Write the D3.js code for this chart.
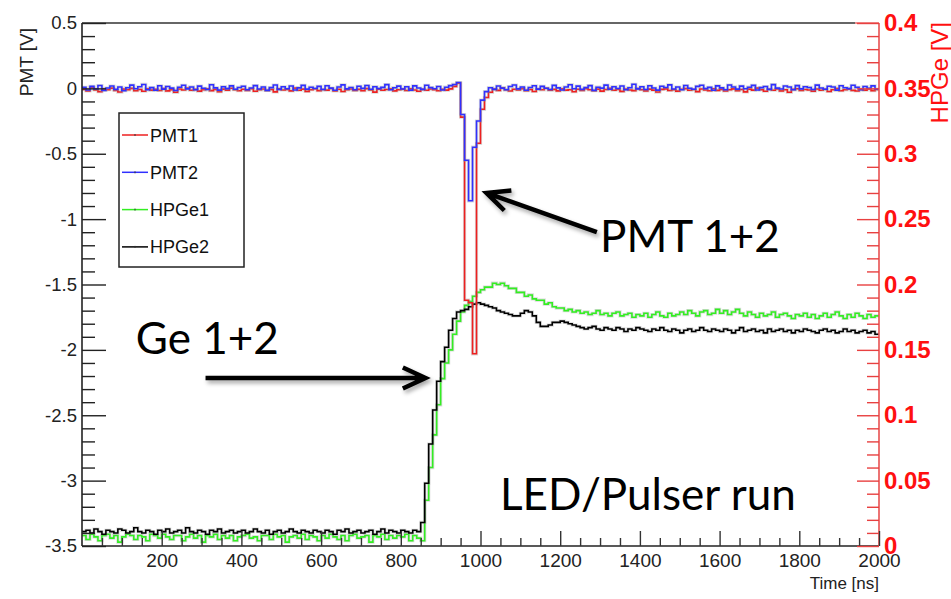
<!DOCTYPE html>
<html>
<head>
<meta charset="utf-8">
<script src="https://cdn.jsdelivr.net/npm/d3@7"></script>
<style>
  body { margin: 0; background: #fff; }
  svg { display: block; }
</style>
</head>
<body>
<svg id="chart" width="951" height="599"></svg>
<script>
// Digitiser traces, 10 ns bins starting at t = 0 ns. Values in mV.
const binWidth = 10;

const pmt1 = [
  -8, -20, 5, -12, -25, -3, -10, 2, -15, -28, -6, -11, 0, -18, -9, -22, -4, -13, -7, -16,
  -2, -19, -10, -30, -5, -12, 3, -14, -8, -21, -11, -4, -17, -9, -26, -6, -13, 1, -10, -18,
  -7, -15, -3, -22, -11, -5, -16, -9, -27, -4, -12, -8, -19, 2, -14, -6, -23, -10, -3, -17,
  -9, -13, -1, -20, -7, -24, -11, -5, -15, -8, -18, -2, -12, -29, -6, -14, -9, -4, -19, -10,
  -6, -16, -3, -12, -22, -8, -14, -5, -10, -18, -7, -13, -4, 15, 40, -220, -1620, -1640, -2030, -420,
  -160, -70, -30, -5, -15, 4, -10, -20, -7, -12, -2, -17, -9, -24, -6, -11, 1, -14, -8, -19,
  -4, -13, -10, -26, -7, -15, -3, -11, -18, -6, -21, -9, 0, -14, -8, -23, -5, -12, -17, -2,
  -10, -19, -6, -13, -28, -8, -4, -16, -11, -21, -7, -2, -14, -9, -25, -5, -12, -18, -3, -15,
  -8, -20, -11, -4, -17, -9, -27, -6, -13, 2, -10, -22, -7, -14, -5, -19, -11, -30, -8, -3,
  -16, -9, -12, -21, -5, -14, -7, -24, -10, -2, -18, -11, -6, -15, -20, -8, -13, -4, -17, -9
];

const pmt2 = [
  8, -12, 15, -5, 22, -15, 3, 18, -8, 10, -18, 5, 25, -3, 12, 30, -10, 6, -14, 20,
  -6, 14, 2, -16, 9, 24, -4, 11, -11, 17, 1, -9, 28, 4, -13, 13, -2, 19, -7, 7,
  16, -10, 3, 21, -5, 10, -15, 6, 26, -8, 12, -3, 18, -12, 4, 23, -6, 9, -1, 15,
  -9, 20, 2, -14, 11, 27, -4, 7, -11, 16, 0, 22, -7, 13, -2, 8, 29, -10, 5, 17,
  -5, 12, -13, 19, 3, -8, 24, 6, -3, 14, -12, 9, 21, 30, 45, -200, -550, -860, -450, -250,
  -90, -25, 5, -8, 18, 2, -11, 14, 26, -4, 10, -14, 7, 20, -6, 15, 1, -9, 23, 4,
  -12, 11, 28, -3, 17, -8, 6, 21, -15, 9, 2, 25, -7, 13, -1, 18, -10, 5, 31, -4,
  12, -9, 20, 3, -13, 16, 7, 27, -5, 10, -11, 22, 1, -7, 15, 24, -2, 8, -14, 19,
  4, -10, 26, 11, -6, 17, -3, 9, 23, -12, 6, 14, -8, 29, 2, -5, 18, 10, -11, 21,
  -4, 13, 7, -9, 25, 3, -7, 16, 11, -13, 20, 5, -2, 24, 8, -10, 14, 1, 19, -6
];

const hpge1 = [
  8, 5, 9, 7, 4, 8, 9, 6, 8, 3, 7, 9, 8, 5, 8, 7, 4, 9, 8, 6,
  9, 7, 5, 8, 8, 4, 7, 9, 6, 8, 3, 8, 7, 9, 5, 8, 6, 8, 4, 7,
  8, 9, 6, 7, 4, 8, 8, 5, 9, 7, 8, 3, 7, 8, 6, 9, 5, 8, 7, 4,
  8, 6, 9, 7, 5, 8, 4, 8, 9, 6, 7, 8, 3, 8, 7, 9, 5, 8, 6, 8,
  7, 9, 4, 8, 6, 4, 35, 60, 85, 108, 128, 140, 150, 162, 172, 179, 184, 187, 191, 194,
  196, 198, 198, 201, 200, 201, 199, 197, 197, 194, 194, 191, 192, 189, 188, 188, 185, 186, 183, 182,
  182, 180, 181, 179, 180, 178, 179, 177, 178, 180, 177, 178, 176, 178, 179, 176, 177, 178, 175, 177,
  176, 178, 175, 177, 179, 176, 175, 178, 176, 177, 179, 177, 180, 178, 176, 179, 180, 177, 178, 181,
  178, 180, 177, 179, 181, 178, 176, 179, 177, 175, 178, 176, 177, 179, 175, 177, 178, 176, 174, 177,
  176, 178, 175, 177, 174, 176, 178, 175, 177, 179, 176, 174, 177, 175, 178, 176, 174, 177, 175, 176
];

const hpge2 = [
  11, 12, 10, 13, 11, 9, 12, 11, 10, 13, 12, 10, 11, 14, 11, 10, 12, 11, 9, 12,
  11, 13, 10, 11, 12, 10, 14, 11, 10, 12, 11, 9, 12, 11, 13, 10, 11, 12, 10, 11,
  12, 10, 11, 13, 11, 10, 12, 9, 11, 12, 10, 11, 13, 11, 10, 12, 11, 10, 12, 11,
  10, 12, 11, 9, 12, 11, 13, 10, 11, 12, 10, 11, 12, 9, 11, 13, 10, 12, 11, 10,
  12, 11, 10, 12, 11, 18, 48, 78, 104, 126, 141, 152, 165, 174, 179, 180, 181, 183, 185, 186,
  185, 184, 183, 182, 180, 179, 178, 177, 176, 176, 178, 180, 179, 176, 171, 168, 168, 169, 171, 171,
  172, 171, 170, 169, 168, 167, 166, 167, 168, 166, 165, 167, 166, 165, 167, 166, 164, 166, 165, 167,
  166, 165, 164, 166, 165, 167, 165, 164, 166, 165, 163, 165, 166, 164, 165, 167, 165, 164, 166, 165,
  164, 166, 165, 163, 165, 167, 164, 165, 166, 164, 165, 163, 166, 164, 165, 166, 164, 165, 163, 165,
  164, 166, 165, 164, 163, 165, 166, 164, 165, 163, 164, 166, 164, 165, 163, 164, 165, 163, 164, 162
];

const seriesNames = ["PMT1", "PMT2", "HPGe1", "HPGe2"];
const seriesColors = ["#ee2020", "#3030ff", "#33ee22", "#000000"];

const timeTicks = [200, 400, 600, 800, 1000, 1200, 1400, 1600, 1800, 2000];
const pmtTicks = [0.5, 0, -0.5, -1, -1.5, -2, -2.5, -3, -3.5];
const hpgeTicks = [0.4, 0.35, 0.3, 0.25, 0.2, 0.15, 0.1, 0.05, 0];

// ---- layout ----
const svg = d3.select("#chart");
const frame = { left: 82, right: 879, top: 23, bottom: 546 };

const x = d3.scaleLinear().domain([0, 2000]).range([frame.left, frame.right]);
const yL = d3.scaleLinear().domain([-3.5, 0.5]).range([frame.bottom, frame.top]);
const yR = d3.scaleLinear().domain([0, 0.4]).range([frame.bottom, frame.top]);

const axisFont = "'Liberation Sans', Arial, Helvetica, sans-serif";
const noteFont = "Lato, 'Open Sans', sans-serif";

svg.append("defs").append("clipPath").attr("id", "plotClip")
  .append("rect")
  .attr("x", frame.left).attr("y", frame.top)
  .attr("width", frame.right - frame.left).attr("height", frame.bottom - frame.top);

const shadow = svg.select("defs").append("filter").attr("id", "arrowShadow")
  .attr("x", "-20%").attr("y", "-50%").attr("width", "140%").attr("height", "200%");
shadow.append("feDropShadow")
  .attr("dx", 2).attr("dy", 3).attr("stdDeviation", 2)
  .attr("flood-color", "#000").attr("flood-opacity", 0.35);

// ---- traces (histogram steps) ----
function stepPoints(vals) {
  const pts = vals.map((v, i) => [i * binWidth, v / 1000]);
  pts.push([vals.length * binWidth, vals[vals.length - 1] / 1000]);
  return pts;
}
const lineL = d3.line().x(d => x(d[0])).y(d => yL(d[1])).curve(d3.curveStepAfter);
const lineR = d3.line().x(d => x(d[0])).y(d => yR(d[1])).curve(d3.curveStepAfter);

const traces = [
  { data: hpge1, line: lineR, color: seriesColors[2] },
  { data: hpge2, line: lineR, color: seriesColors[3] },
  { data: pmt1, line: lineL, color: seriesColors[0] },
  { data: pmt2, line: lineL, color: seriesColors[1] }
];

const plot = svg.append("g").attr("clip-path", "url(#plotClip)");
traces.forEach(t => {
  const d = t.line(stepPoints(t.data));
  plot.append("path").attr("d", d)
    .attr("fill", "none").attr("stroke", "#999").attr("stroke-opacity", 0.35)
    .attr("stroke-width", 3.2).attr("stroke-linejoin", "miter");
  plot.append("path").attr("d", d)
    .attr("fill", "none").attr("stroke", t.color)
    .attr("stroke-width", 1.6).attr("stroke-linejoin", "miter");
});

// ---- frame ----
svg.append("line").attr("x1", frame.left).attr("x2", x(1940)).attr("y1", frame.top).attr("y2", frame.top)
  .attr("stroke", "#333").attr("stroke-width", 1.3);
svg.append("line").attr("x1", x(1940)).attr("x2", frame.right).attr("y1", frame.top).attr("y2", frame.top)
  .attr("stroke", "#e85050").attr("stroke-width", 1.3);
svg.append("line").attr("x1", frame.left).attr("x2", frame.left).attr("y1", frame.top).attr("y2", frame.bottom)
  .attr("stroke", "#222").attr("stroke-width", 1.6);
svg.append("line").attr("x1", frame.left).attr("x2", frame.right).attr("y1", frame.bottom).attr("y2", frame.bottom)
  .attr("stroke", "#222").attr("stroke-width", 1.6);
svg.append("line").attr("x1", frame.right).attr("x2", frame.right).attr("y1", frame.top).attr("y2", frame.bottom)
  .attr("stroke", "#e85050").attr("stroke-width", 1.6);

// ---- bottom axis ----
const xMinor = d3.range(50, 2000, 50).filter(v => v % 200 !== 0);
svg.append("g").attr("transform", `translate(0,${frame.bottom})`)
  .call(d3.axisBottom(x).tickValues(xMinor).tickSize(-8).tickFormat(""))
  .call(g => g.select(".domain").remove())
  .call(g => g.selectAll("line").attr("stroke", "#333").attr("stroke-width", 1.4));
svg.append("g").attr("transform", `translate(0,${frame.bottom})`)
  .call(d3.axisBottom(x).tickValues(timeTicks).tickSize(-15).tickPadding(8).tickFormat(d => String(d)))
  .call(g => g.select(".domain").remove())
  .call(g => g.selectAll("line").attr("stroke", "#333").attr("stroke-width", 1.4))
  .call(g => g.selectAll("text").attr("font-family", axisFont).attr("font-size", 19).attr("fill", "#222"));

svg.append("text").attr("x", frame.right).attr("y", 589)
  .attr("text-anchor", "end").attr("font-family", axisFont).attr("font-size", 17).attr("fill", "#222")
  .text("Time [ns]");

// ---- left axis (PMT) ----
const yMinor = d3.range(-35, 6).map(v => v / 10).filter(v => Math.abs(v * 2 - Math.round(v * 2)) > 1e-6);
svg.append("g").attr("transform", `translate(${frame.left},0)`)
  .call(d3.axisLeft(yL).tickValues(yMinor).tickSize(-13).tickFormat(""))
  .call(g => g.select(".domain").remove())
  .call(g => g.selectAll("line").attr("stroke", "#222").attr("stroke-width", 1.4));
svg.append("g").attr("transform", `translate(${frame.left},0)`)
  .call(d3.axisLeft(yL).tickValues(pmtTicks).tickSize(-24).tickPadding(5).tickFormat(d => String(d)))
  .call(g => g.select(".domain").remove())
  .call(g => g.selectAll("line").attr("stroke", "#222").attr("stroke-width", 1.4))
  .call(g => g.selectAll("text").attr("font-family", axisFont).attr("font-size", 18.5).attr("fill", "#222"));

svg.append("text")
  .attr("transform", "translate(33,28) rotate(-90)")
  .attr("text-anchor", "end").attr("font-family", axisFont).attr("font-size", 19).attr("fill", "#222")
  .text("PMT [V]");

// ---- right axis (HPGe) ----
const rMinor = d3.range(1, 40).filter(v => v % 5 !== 0).map(v => v / 100);
svg.append("g").attr("transform", `translate(${frame.right},0)`)
  .call(d3.axisRight(yR).tickValues(rMinor).tickSize(-12).tickFormat(""))
  .call(g => g.select(".domain").remove())
  .call(g => g.selectAll("line").attr("stroke", "#e84040").attr("stroke-width", 1.4));
svg.append("g").attr("transform", `translate(${frame.right},0)`)
  .call(d3.axisRight(yR).tickValues(hpgeTicks).tickSize(-22).tickPadding(5).tickFormat(d => String(d)))
  .call(g => g.select(".domain").remove())
  .call(g => g.selectAll("line").attr("stroke", "#e84040").attr("stroke-width", 1.4))
  .call(g => g.selectAll("text").attr("font-family", axisFont).attr("font-size", 24)
    .attr("font-weight", "bold").attr("fill", "#ff1010"));

svg.append("text")
  .attr("transform", "translate(948,22) rotate(-90)")
  .attr("text-anchor", "end").attr("font-family", axisFont).attr("font-size", 24).attr("fill", "#ff1010")
  .text("HPGe [V]");

// ---- legend ----
const legend = svg.append("g");
legend.append("rect").attr("x", 119).attr("y", 113).attr("width", 125).attr("height", 154)
  .attr("fill", "#fff").attr("stroke", "#222").attr("stroke-width", 1.5);
seriesNames.forEach((name, i) => {
  const cy = 135 + i * 37.3;
  legend.append("line").attr("x1", 122).attr("x2", 148).attr("y1", cy).attr("y2", cy)
    .attr("stroke", seriesColors[i]).attr("stroke-width", 1.5);
  legend.append("line").attr("x1", 135).attr("x2", 135).attr("y1", cy - 1).attr("y2", cy + 1)
    .attr("stroke", "#333").attr("stroke-width", 1);
  legend.append("text").attr("x", 150).attr("y", cy + 6.5)
    .attr("font-family", axisFont).attr("font-size", 18).attr("fill", "#111")
    .text(name);
});

// ---- annotations ----
function arrow(x0, y0, x1, y1) {
  const ang = Math.atan2(y0 - y1, x0 - x1);
  const len = 25, spread = 25 * Math.PI / 180;
  const a1 = [x1 + len * Math.cos(ang + spread), y1 + len * Math.sin(ang + spread)];
  const a2 = [x1 + len * Math.cos(ang - spread), y1 + len * Math.sin(ang - spread)];
  const g = svg.append("g").attr("filter", "url(#arrowShadow)");
  g.append("path")
    .attr("d", `M${x0},${y0}L${x1},${y1}M${a1[0]},${a1[1]}L${x1},${y1}L${a2[0]},${a2[1]}`)
    .attr("fill", "none").attr("stroke", "#000").attr("stroke-width", 4.5)
    .attr("stroke-linecap", "butt").attr("stroke-linejoin", "miter");
}
// PMT pulse pointer, in data coordinates (time, PMT volts)
arrow(x(1292), yL(-1.1), x(1015), yL(-0.8));
// Ge rise pointer
arrow(x(310), yL(-2.215), x(862), yL(-2.215));

const notes = [
  { text: "PMT 1+2", t: 1300, v: -1.25 },
  { text: "Ge 1+2", t: 135, v: -2.03 },
  { text: "LED/Pulser run", t: 1049, v: -3.225 }
];
notes.forEach(n => {
  svg.append("text").attr("x", x(n.t)).attr("y", yL(n.v))
    .attr("font-family", noteFont).attr("font-size", 44).attr("fill", "#000")
    .text(n.text);
});
</script>
</body>
</html>
